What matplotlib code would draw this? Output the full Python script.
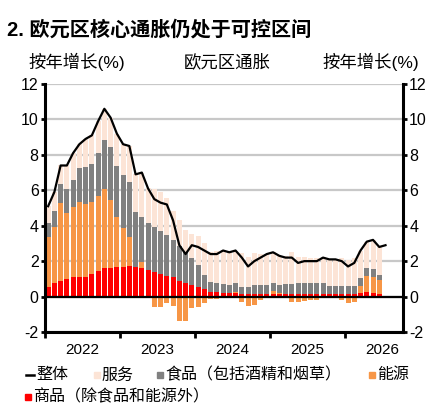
import numpy as np
import matplotlib.pyplot as plt
from matplotlib.lines import Line2D

plt.rcParams['font.family'] = ['Liberation Sans', 'Noto Sans CJK SC']
plt.rcParams['axes.unicode_minus'] = False

# --- 数据 (按年增长, 百分点贡献) 2022年1月起 ---
years = ['2022', '2023', '2024', '2025', '2026']

goods = [0.56, 0.79, 0.90, 1.00, 1.13, 1.13, 1.13, 1.30, 1.47, 1.60, 1.60, 1.65,
         1.69, 1.73, 1.65, 1.60, 1.50, 1.41, 1.28, 1.17, 1.09, 0.88, 0.79, 0.66,
         0.53, 0.40, 0.28, 0.28, 0.19, 0.19, 0.18, 0.15, 0.15, 0.15, 0.15, 0.15,
         0.15, 0.17, 0.15, 0.15, 0.15, 0.17, 0.17, 0.17, 0.17, 0.15, 0.15, 0.15,
         0.15, 0.15, 0.19, 0.23, 0.19, 0.15]

energy = [2.82, 3.16, 4.36, 3.74, 3.94, 4.23, 4.10, 4.06, 4.21, 4.47, 3.85, 2.82,
          2.20, 1.65, 0.00, 0.37, -0.05, -0.60, -0.60, -0.38, -0.53, -1.40, -1.37, -0.66,
          -0.60, -0.38, -0.13, -0.15, -0.03, 0.02, 0.10, -0.28, -0.56, -0.47, -0.19, 0.00,
          0.17, 0.02, -0.10, -0.32, -0.32, -0.24, -0.19, -0.19, -0.05, 0.00, 0.00, -0.19,
          -0.38, -0.28, 0.41, 0.94, 0.94, 0.79]

food = [0.76, 0.88, 1.07, 1.33, 1.53, 1.88, 2.06, 2.14, 2.44, 2.76, 2.97, 2.90,
        2.97, 3.10, 3.15, 2.53, 2.65, 2.49, 2.44, 2.31, 2.11, 1.97, 1.71, 1.54,
        1.27, 0.84, 0.53, 0.47, 0.51, 0.45, 0.47, 0.41, 0.41, 0.51, 0.51, 0.51,
        0.43, 0.49, 0.55, 0.55, 0.60, 0.58, 0.58, 0.60, 0.58, 0.47, 0.45, 0.47,
        0.45, 0.47, 0.47, 0.47, 0.41, 0.28]

services = [0.96, 1.07, 1.07, 1.33, 1.50, 1.36, 1.61, 1.60, 1.78, 1.77, 1.68, 1.83,
            1.74, 2.02, 2.10, 2.50, 2.00, 2.20, 2.18, 2.10, 1.63, 1.45, 1.27, 1.36,
            1.60, 1.76, 1.72, 1.80, 1.93, 1.84, 1.85, 1.92, 1.70, 1.81, 1.73, 1.74,
            1.75, 1.62, 1.60, 1.82, 1.47, 1.49, 1.44, 1.42, 1.50, 1.48, 1.50, 1.57,
            1.48, 1.56, 1.53, 1.46, 1.66, 1.58]

headline = [5.1, 5.9, 7.4, 7.4, 8.1, 8.6, 8.9, 9.1, 9.9, 10.6, 10.1, 9.2,
            8.6, 8.5, 6.9, 7.0, 6.1, 5.5, 5.3, 5.2, 4.3, 2.9, 2.4, 2.9,
            2.8, 2.6, 2.4, 2.4, 2.6, 2.5, 2.6, 2.2, 1.7, 2.0, 2.2, 2.4,
            2.5, 2.3, 2.2, 2.2, 1.9, 2.0, 2.0, 2.0, 2.2, 2.1, 2.1, 2.0,
            1.7, 1.9, 2.6, 3.1, 3.2, 2.8, 2.9]

c_serv = '#FCE4D6'
c_food = '#808080'
c_energy = '#F79646'
c_goods = '#FF0000'

goods_a = np.array(goods)
energy_a = np.array(energy)
food_a = np.array(food)
serv_a = np.array(services)

x = np.arange(len(goods)) + 0.5
xl = np.arange(len(headline)) + 0.5

# 堆叠: 正值向上, 能源为负时向下
energy_pos = np.clip(energy_a, 0, None)
energy_bottom = np.where(energy_a >= 0, goods_a, 0)
food_bottom = goods_a + energy_pos
serv_bottom = food_bottom + food_a

fig = plt.figure(figsize=(4.27, 4.08), dpi=100)
ax = fig.add_axes([45 / 427, 1 - 332 / 408, (403 - 45) / 427, (332 - 84) / 408])

w = 0.8
ax.bar(x, goods_a, w, color=c_goods, lw=0)
ax.bar(x, energy_a, w, bottom=energy_bottom, color=c_energy, lw=0)
ax.bar(x, food_a, w, bottom=food_bottom, color=c_food, lw=0)
ax.bar(x, serv_a, w, bottom=serv_bottom, color=c_serv, lw=0)
ax.plot(xl, headline, color='black', lw=1.6, zorder=4)

ax.axhline(0, color='black', lw=1.6, zorder=3)
ax.set_axisbelow(True)
ax.yaxis.grid(True, color='#c8c8c8', lw=1.6)

ax.set_xlim(0, 57.3)
ax.set_ylim(-2, 12)
ax.set_yticks(range(-2, 13, 2))
ax.set_xticks([0, 12, 24, 36, 48])
ax.set_xticklabels([])
ax.set_xticks([6, 18, 30, 42, 54], minor=True)
ax.set_xticklabels(years, minor=True)
ax.tick_params(axis='x', which='major', direction='out', length=4, width=2)
ax.tick_params(axis='x', which='minor', length=0, pad=8, labelsize=11)
ax.tick_params(axis='y', left=True, right=True, labelleft=True, labelright=True,
               direction='out', length=3, width=2, labelsize=11.5, pad=1.5)

ax.spines['top'].set_visible(False)
for s in ['left', 'right', 'bottom']:
    ax.spines[s].set_linewidth(2.2)

# --- 标题 ---
fig.text(7 / 427, 1 - 30 / 408, '2. 欧元区核心通胀仍处于可控区间', fontsize=14.5,
         fontweight='bold', va='center', ha='left')
fig.text(28 / 427, 1 - 62 / 408, '按年增长(%)', fontsize=12.5, va='center', ha='left')
fig.text(227 / 427, 1 - 62 / 408, '欧元区通胀', fontsize=12.5, va='center', ha='center')
fig.text(419 / 427, 1 - 62 / 408, '按年增长(%)', fontsize=12.5, va='center', ha='right')

# --- 图例 ---
y1 = 1 - 375 / 408
y2 = 1 - 397 / 408
fig.add_artist(Line2D([26 / 427, 34 / 427], [y1, y1], color='black', lw=1.8,
                      transform=fig.transFigure))
fig.text(36 / 427, y1, '整体', fontsize=11.5, va='center')
items = [(97, y1, c_serv, '服务'), (160, y1, c_food, '食品（包括酒精和烟草）'),
         (372, y1, c_energy, '能源'), (28, y2, c_goods, '商品（除食品和能源外）')]
for px, yy, col, lab in items:
    fig.add_artist(Line2D([px / 427], [yy], marker='s', markersize=4, color=col,
                          lw=0, transform=fig.transFigure))
    fig.text((px + 5) / 427, yy, lab, fontsize=11.5, va='center')

fig.savefig('out.png', dpi=100)
